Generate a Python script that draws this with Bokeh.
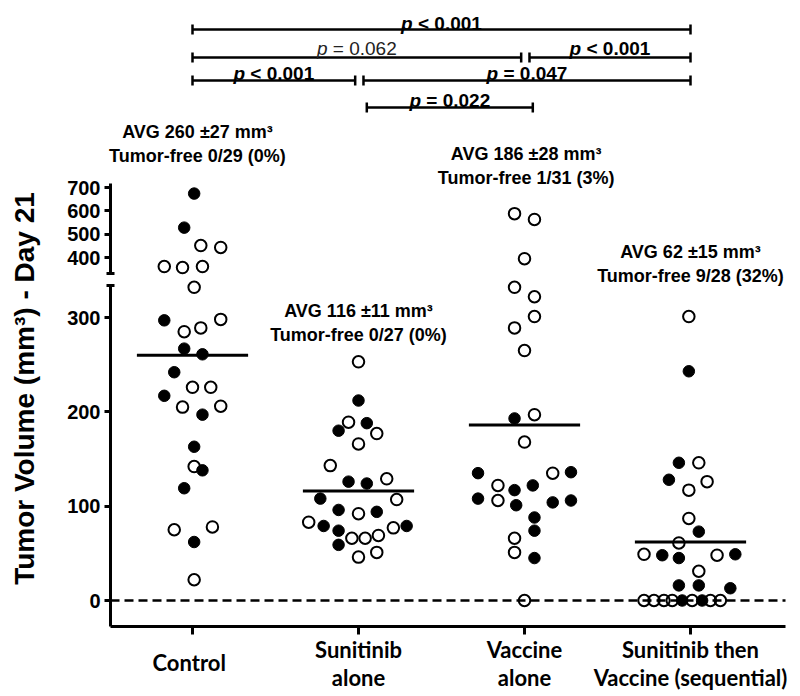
import numpy as np
import pandas as pd
from bokeh.plotting import figure
from bokeh.models import (Range1d, LinearAxis, FixedTicker, Label, ColumnDataSource)
from bokeh.embed import file_html
from bokeh.resources import INLINE

# ---------------- data ----------------
group_lines = [["Control"], ["Sunitinib", "alone"], ["Vaccine", "alone"],
               ["Sunitinib then", "Vaccine (sequential)"]]

control_vol = [674, 528, 451, 443, 361, 357, 361, 332, 297, 285, 289, 298, 267, 261, 242,
               226, 226, 217, 205, 197, 206, 163, 142, 138, 119, 75, 78, 62, 22]
control_dx = [0.01, -0.05, 0.05, 0.17, -0.17, -0.06, 0.06, 0.01, -0.17, -0.05, 0.05, 0.17,
              -0.05, 0.06, -0.11, 0.0, 0.11, -0.17, -0.06, 0.06, 0.17, 0.01, 0.01, 0.06,
              -0.05, -0.11, 0.12, 0.01, 0.01]
control_filled = [1, 1, 0, 0, 0, 0, 0, 0, 1, 0, 0, 0, 1, 1, 1, 0, 0, 1, 0, 1, 0, 1, 0, 1,
                  1, 0, 0, 1, 0]

sunitinib_vol = [253, 212, 180, 189, 188, 177, 166, 143, 126, 124, 129, 108, 107, 96, 92,
                 94, 83, 79, 74, 77, 79, 66, 66, 69, 59, 51, 46]
sunitinib_dx = [0, 0, -0.12, -0.06, 0.05, 0.11, 0, -0.17, -0.06, 0.05, 0.17, -0.23, 0.23,
                -0.12, 0, 0.11, -0.30, -0.21, -0.12, 0.21, 0.29, -0.04, 0.04, 0.12, -0.12,
                0.11, 0]
sunitinib_filled = [0, 1, 1, 0, 1, 0, 0, 0, 1, 1, 0, 1, 0, 1, 0, 1, 0, 1, 1, 0, 1, 0, 0, 0,
                    1, 0, 0]

vaccine_vol = [588, 563, 395, 332, 322, 301, 289, 265, 193, 197, 168, 135, 122, 117, 122,
               135, 136, 108, 106, 101, 104, 106, 88, 74, 66, 51, 45, 0]
vaccine_dx = [-0.06, 0.06, 0, -0.06, 0.06, 0.06, -0.06, 0, -0.06, 0.06, 0, -0.28, -0.16,
              -0.06, 0.05, 0.17, 0.28, -0.28, -0.16, -0.05, 0.17, 0.28, 0.06, 0.06, -0.06,
              -0.06, 0.06, 0]
vaccine_filled = [0, 0, 0, 0, 0, 0, 0, 0, 1, 0, 0, 1, 0, 1, 1, 0, 1, 1, 0, 1, 1, 1, 1, 1,
                  0, 0, 1, 0]

sequential_vol = [301, 243, 146, 146, 128, 126, 117, 87, 73, 61, 49, 48, 45, 48, 49, 31, 16,
                  16, 13, 0, 0, 0, 0, 0, 0, 0, 0, 0]
sequential_dx = [-0.01, -0.01, -0.07, 0.05, -0.13, 0.10, -0.01, -0.01, 0.05, -0.07, -0.28,
                 -0.17, -0.07, 0.16, 0.27, 0.05, -0.07, 0.05, 0.24, -0.28, -0.22, -0.16,
                 -0.11, -0.05, 0.01, 0.07, 0.12, 0.18]
sequential_filled = [0, 1, 1, 0, 1, 0, 0, 0, 1, 0, 0, 1, 1, 0, 1, 0, 1, 1, 1, 0, 0, 0, 0, 1,
                     0, 1, 0, 0]

group_means = [260, 116, 186, 62]
annotation_line1 = ["AVG 260 \u00b127 mm\u00b3", "AVG 116 \u00b111 mm\u00b3",
                    "AVG 186 \u00b128 mm\u00b3", "AVG 62 \u00b115 mm\u00b3"]
annotation_line2 = ["Tumor-free 0/29 (0%)", "Tumor-free 0/27 (0%)",
                    "Tumor-free 1/31 (3%)", "Tumor-free 9/28 (32%)"]

bracket_from = [1, 1, 3, 1, 2, 2]
bracket_to = [4, 3, 4, 2, 4, 3]
bracket_row = [0, 1, 1, 2, 2, 3]
bracket_p = ["< 0.001", "= 0.062", "< 0.001", "< 0.001", "= 0.047", "= 0.022"]
bracket_bold = [1, 0, 1, 1, 1, 1]

lower_ticks = [0, 100, 200, 300]
upper_ticks = [400, 500, 600, 700]
y_title = "Tumor Volume (mm\u00b3) - Day 21"

# ---------------- layout (pixels) ----------------
W, H = 800, 696
kx = 166.0                       # px per category
x_start = 1 - 192 / kx
x_end = x_start + W / kx
k_low = 0.9433                   # px per mm3, lower segment
y_low_start = -(H - 600) / k_low
y_low_end = 600 / k_low
k_up = 0.2333                    # px per mm3, upper segment
y_up_start = 400 - (H - 257) / k_up
y_up_end = 400 + 257 / k_up


def xd(px):
    return 1 + (px - 192) / kx


def ylow(py):
    return (600 - py) / k_low


def yup(py):
    return 400 + (257 - py) / k_up


AX_X, AX_Y, AX_R = 110, 626, 785
BREAK = 340
FONT = "Liberation Sans"

p = figure(width=W, height=H, x_range=Range1d(x_start, x_end),
           y_range=Range1d(y_low_start, y_low_end),
           output_backend="svg", toolbar_location=None,
           x_axis_location=None, y_axis_location=None,
           min_border_left=0, min_border_right=0, min_border_top=0, min_border_bottom=0)
p.extra_y_ranges = {"upper": Range1d(y_up_start, y_up_end)}
p.outline_line_color = None
p.xgrid.visible = False
p.ygrid.visible = False
p.background_fill_color = "white"
p.border_fill_color = "white"


def style_axis(ax):
    ax.axis_line_width = 3
    ax.axis_line_color = "black"
    ax.major_tick_line_width = 3
    ax.major_tick_in = 0
    ax.major_tick_out = 6
    ax.minor_tick_line_width = 3
    ax.minor_tick_in = 4
    ax.minor_tick_out = 4
    ax.major_label_text_font = FONT
    ax.major_label_text_font_style = "bold"
    ax.major_label_text_font_size = "20px"
    ax.major_label_text_color = "black"
    ax.major_label_standoff = 4


xaxis = LinearAxis(ticker=FixedTicker(ticks=[1, 2, 3, 4]), fixed_location=ylow(AX_Y),
                   bounds=(xd(AX_X), xd(AX_R)),
                   major_label_overrides={1: "", 2: "", 3: "", 4: ""})
style_axis(xaxis)
xaxis.major_tick_out = 8
xaxis.minor_tick_line_color = None
p.add_layout(xaxis, "below")

lower_cap = ylow(285)
yaxis_low = LinearAxis(ticker=FixedTicker(ticks=lower_ticks, minor_ticks=[lower_cap]),
                       fixed_location=xd(AX_X), bounds=(ylow(AX_Y), lower_cap))
style_axis(yaxis_low)
p.add_layout(yaxis_low, "left")

upper_cap = yup(273)
yaxis_up = LinearAxis(y_range_name="upper", fixed_location=xd(AX_X),
                      ticker=FixedTicker(ticks=upper_ticks, minor_ticks=[upper_cap]),
                      bounds=(upper_cap, yup(183)))
style_axis(yaxis_up)
p.add_layout(yaxis_up, "left")

# zero reference line across the x-axis extent
p.segment(x0=[xd(AX_X)], x1=[xd(AX_R)], y0=[0], y1=[0], line_color="black",
          line_dash="9 5", line_width=2.7)

# ---------------- points ----------------
groups = [(control_vol, control_dx, control_filled),
          (sunitinib_vol, sunitinib_dx, sunitinib_filled),
          (vaccine_vol, vaccine_dx, vaccine_filled),
          (sequential_vol, sequential_dx, sequential_filled)]
frames = []
for gi, (vol, dx, filled) in enumerate(groups, start=1):
    frames.append(pd.DataFrame({"x": gi + np.array(dx, float),
                                "vol": np.array(vol, float),
                                "filled": np.array(filled, int)}))
df = pd.concat(frames, ignore_index=True)

for upper in (False, True):
    part = df[(df.vol > BREAK) == upper]
    rng = {"y_range_name": "upper"} if upper else {}
    op = ColumnDataSource(part[part.filled == 0])
    fi = ColumnDataSource(part[part.filled == 1])
    p.scatter("x", "vol", source=op, marker="circle", size=11.5, fill_color=None,
              line_color="black", line_width=2, **rng)
    p.scatter("x", "vol", source=fi, marker="circle", size=11.5, fill_color="black",
              line_color="black", line_width=1, **rng)

# mean lines
gidx = np.arange(1, 5)
p.segment(x0=gidx - 0.335, x1=gidx + 0.335, y0=group_means, y1=group_means,
          line_color="black", line_width=3)

# ---------------- group annotations ----------------
ann_x_shift = [0.03, 0.0, 0.01, 0.0]
ann_line2_pg = [155.5, 334.5, 177.5, 275.5]
for i in range(4):
    for txt, dy in ((annotation_line1[i], 24), (annotation_line2[i], 0)):
        p.add_layout(Label(x=i + 1 + ann_x_shift[i], y=ylow(ann_line2_pg[i] - dy),
                           text=txt, text_align="center", text_baseline="middle",
                           text_font=FONT, text_font_style="bold",
                           text_font_size="18px", text_color="black"))

# ---------------- significance brackets ----------------
row_pg = [29, 57, 80, 107]
row_text_gap = [6, 9, 7, 7]
ADV_BOLD = {"p": .611, " ": .278, "<": .584, "=": .584, ".": .278}
ADV_REG = {"p": .556, " ": .278, "<": .584, "=": .584, ".": .278}
PFS = 19


def text_w(s, table):
    return sum(table.get(c, .556) for c in s) * PFS


tick_half = 5 / k_low
for b in range(len(bracket_from)):
    a, c, r = bracket_from[b], bracket_to[b], bracket_row[b]
    x0, x1 = float(a), float(c)
    for o in range(len(bracket_from)):
        if o != b and bracket_row[o] == r:
            if bracket_from[o] == c:
                x1 -= 0.02
            if bracket_to[o] == a:
                x0 += 0.03
    if r == 3:
        x0 += 0.05
        x1 += 0.05
    yb = ylow(row_pg[r])
    p.segment(x0=[x0], x1=[x1], y0=[yb], y1=[yb], line_color="black", line_width=2.5)
    p.segment(x0=[x0, x1], x1=[x0, x1], y0=[yb - tick_half] * 2, y1=[yb + tick_half] * 2,
              line_color="black", line_width=2.5)
    bold = bracket_bold[b] == 1
    table = ADV_BOLD if bold else ADV_REG
    rest = bracket_p[b]
    wp, ws, wr = text_w("p", table), text_w(" ", table), text_w(rest, table)
    start = -(wp + ws + wr) / 2
    ty = yb + row_text_gap[r] / k_low
    color = "black" if bold else "#222222"
    p.add_layout(Label(x=(x0 + x1) / 2, y=ty, x_offset=start, text="p",
                       text_align="left", text_baseline="alphabetic",
                       text_font=FONT, text_font_style="bold italic" if bold else "italic",
                       text_font_size=f"{PFS}px", text_color=color))
    p.add_layout(Label(x=(x0 + x1) / 2, y=ty, x_offset=start + wp + ws, text=rest,
                       text_align="left", text_baseline="alphabetic",
                       text_font=FONT, text_font_style="bold" if bold else "normal",
                       text_font_size=f"{PFS}px", text_color=color))

# ---------------- category labels ----------------
cat_x_shift = [-0.02, 0.0, 0.0, 0.0]
for i, lines in enumerate(group_lines):
    pos = [662] if len(lines) == 1 else [649, 677]
    for txt, py in zip(lines, pos):
        p.add_layout(Label(x=i + 1 + cat_x_shift[i], y=ylow(py), text=txt,
                           text_align="center", text_baseline="middle", text_font="Lato",
                           text_font_style="bold", text_font_size="22px",
                           text_color="black"))

# ---------------- y axis title ----------------
p.add_layout(Label(x=xd(24), y=ylow(388), text=y_title,
                   angle=np.pi / 2, angle_units="rad", text_align="center",
                   text_baseline="middle", text_font=FONT, text_font_style="bold",
                   text_font_size="28px", text_color="black"))

open("out.html", "w").write(file_html(p, INLINE))
